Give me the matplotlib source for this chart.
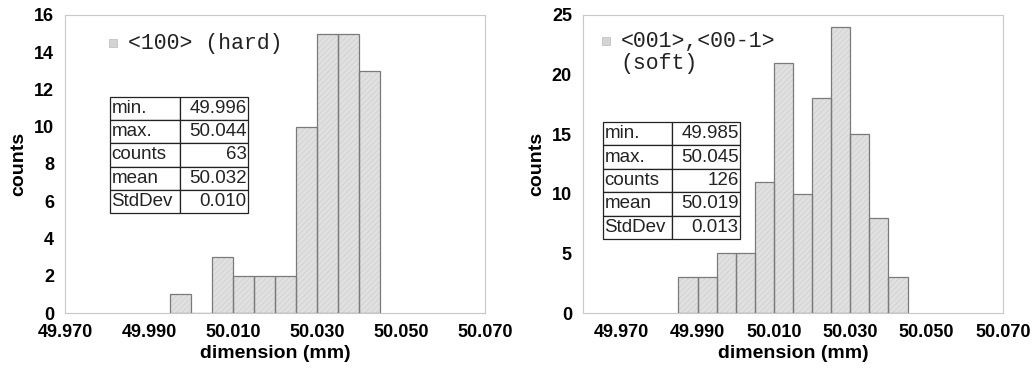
import matplotlib
matplotlib.use('Agg')
import matplotlib.pyplot as plt
from matplotlib.patches import Rectangle

# histogram data (bin left edges in mm, counts per 0.005 mm bin)
hard_edges = [49.995, 50.000, 50.005, 50.010, 50.015, 50.020, 50.025, 50.030, 50.035, 50.040]
hard_counts = [1, 0, 3, 2, 2, 2, 10, 15, 15, 13]
soft_edges = [49.985, 49.990, 49.995, 50.000, 50.005, 50.010, 50.015, 50.020, 50.025, 50.030, 50.035, 50.040]
soft_counts = [3, 3, 5, 5, 11, 21, 10, 18, 24, 15, 8, 3]
bin_width = 0.005

stat_names = ['min.', 'max.', 'counts', 'mean', 'StdDev']
hard_stats = ['49.996', '50.044', '63', '50.032', '0.010']
soft_stats = ['49.985', '50.045', '126', '50.019', '0.013']

x_ticks = [49.970, 49.990, 50.010, 50.030, 50.050, 50.070]
hard_yticks = [0, 2, 4, 6, 8, 10, 12, 14, 16]
soft_yticks = [0, 5, 10, 15, 20, 25]

plt.rcParams['font.family'] = ['Liberation Sans', 'DejaVu Sans']
plt.rcParams['hatch.linewidth'] = 0.4

W, H = 1034, 368
fig = plt.figure(figsize=(W / 100, H / 100), dpi=100)

bar_fill = '#e0e0e0'
bar_edge = '#7a7a7a'


def draw_panel(rect, edges, counts, xlim, yticks, label, stats, tbl_box, leg_pos):
    ax = fig.add_axes(rect)
    # hatched fill first, then outline on top
    ax.bar(edges, counts, width=bin_width, align='edge', color=bar_fill,
           edgecolor='#cacaca', hatch='//////', linewidth=0, zorder=2)
    ax.bar(edges, counts, width=bin_width, align='edge', fill=False,
           edgecolor=bar_edge, linewidth=0.9, zorder=3)
    ax.set_xlim(*xlim)
    ax.set_ylim(yticks[0], yticks[-1])
    ax.set_xticks(x_ticks)
    ax.set_xticklabels([f'{t:.3f}' for t in x_ticks])
    ax.set_yticks(yticks)
    ax.tick_params(length=0, labelsize=13, pad=8)
    for lab in ax.get_xticklabels() + ax.get_yticklabels():
        lab.set_fontweight('bold')
    for sp in ax.spines.values():
        sp.set_color('#c8c8c8')
        sp.set_linewidth(0.8)
    ax.set_xlabel('dimension (mm)', fontsize=14, fontweight='bold', labelpad=3)
    ax.set_ylabel('counts', fontsize=14, fontweight='bold', labelpad=5)

    tbl = ax.table(cellText=[[n, v] for n, v in zip(stat_names, stats)],
                   bbox=tbl_box, colWidths=[0.505, 0.495], zorder=5)
    tbl.auto_set_font_size(False)
    for (r, c), cell in tbl.get_celld().items():
        cell.set_linewidth(0.9)
        cell.set_edgecolor('#222222')
        cell.set_facecolor('white')
        cell.get_text().set_fontsize(13.5)
        cell.get_text().set_color('#222222')
        cell.set_text_props(ha='left' if c == 0 else 'right')
        cell.PAD = 0.02

    # legend: small grey square + monospace label (square sits on the first line)
    sx, sy = leg_pos
    ax.add_patch(Rectangle((sx, sy - 0.012), 8 / 420, 8 / 298, transform=ax.transAxes,
                           facecolor='#d4d4d4', edgecolor='#bbbbbb', linewidth=0.5, zorder=6))
    for i, line in enumerate(label.split('\n')):
        ax.text(sx + 0.045, sy - i * 22 / 298, line, transform=ax.transAxes,
                ha='left', va='center', family='Liberation Mono', fontsize=15.5,
                color='#222222', zorder=6)
    return ax


draw_panel([65 / W, (H - 313) / H, 420 / W, 298 / H], hard_edges, hard_counts,
           (49.970, 50.070), hard_yticks, '<100> (hard)', hard_stats,
           [0.107, 0.336, 0.329, 0.389], (0.105, 0.903))

draw_panel([583 / W, (H - 313) / H, 420 / W, 298 / H], soft_edges, soft_counts,
           (49.960, 50.070), soft_yticks, '<001>,<00-1>\n(soft)', soft_stats,
           [0.048, 0.248, 0.326, 0.393], (0.045, 0.910))

fig.savefig('out.png', dpi=100)
